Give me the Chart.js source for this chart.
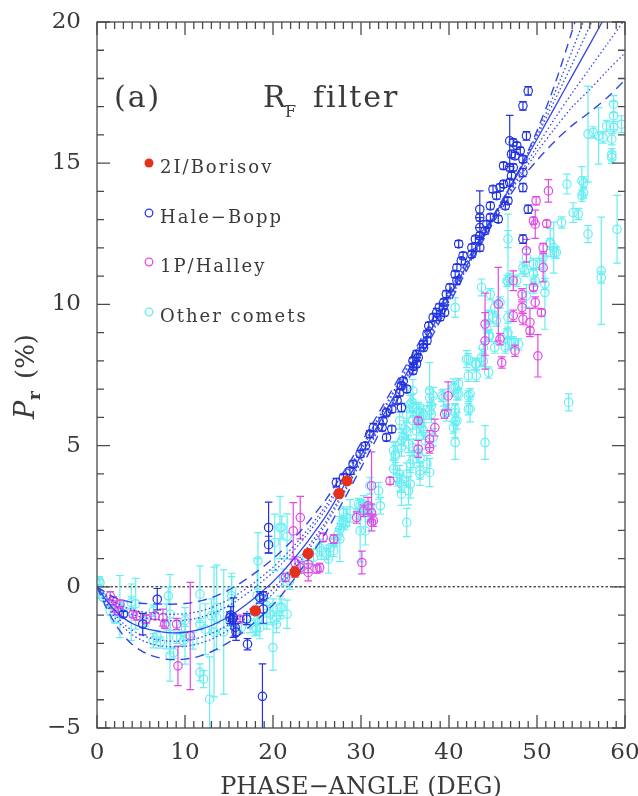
<!DOCTYPE html>
<html>
<head>
<meta charset="utf-8">
<script src="https://cdn.jsdelivr.net/npm/chart.js@4.4.0/dist/chart.umd.min.js"></script>
<style>
  html, body { margin: 0; padding: 0; background: #fff; }
  canvas { display: block; }
</style>
</head>
<body>
<canvas id="chart" width="638" height="796"></canvas>
<script>
// Polarization vs phase angle, R_F filter
// each point is [phase angle, Pr, half error bar]

const borisov = [[18.0,-0.85,0.12],[22.5,0.52,0.18],[24.0,1.18,0.15],[27.5,3.3,0.15],[28.4,3.75,0.1]];

const haleBopp = [
  [3.0,-0.97,0.1],[5.2,-1.32,0.38],[6.85,-0.44,0.38],[15.1,-1.09,0.2],[15.2,-1.0,0.3],[15.5,-1.09,0.7],
  [15.7,-1.44,0.3],[15.8,-1.6,0.3],[15.4,-1.15,0.2],[17.0,-1.14,0.2],[17.1,-2.03,0.2],[18.5,-0.38,0.2],
  [18.9,-0.32,0.15],[18.9,-0.79,0.5],[19.5,2.1,0.9],[19.5,1.49,0.3],[18.8,-3.88,1.15],
  [27.2,3.69,0.15],[28.0,3.87,0.12],[28.75,4.1,0.12],[29.1,4.34,0.12],[29.9,4.7,0.12],[30.5,4.99,0.12],
  [31.0,5.41,0.12],[31.4,5.64,0.15],[32.4,5.64,0.12],[32.9,5.29,0.12],[33.5,5.58,0.12],[32.5,5.88,0.12],
  [32.9,6.17,0.12],[33.5,6.29,0.12],[34.1,6.59,0.12],[34.4,6.88,0.12],[34.6,7.12,0.12],[34.8,7.29,0.12],
  [35.2,7.0,0.12],[35.9,7.65,0.12],[36.3,7.89,0.12],[36.5,8.12,0.12],[37.1,8.47,0.12],[37.5,8.71,0.12],
  [34.6,6.35,0.15],[35.9,8.0,0.12],[36.3,8.24,0.12],[37.1,8.59,0.12],[37.5,8.95,0.12],[37.7,9.24,0.12],
  [38.2,9.54,0.12],[38.6,9.71,0.15],[39.5,9.71,0.12],[39.4,10.07,0.12],[39.7,10.36,0.12],[40.1,10.6,0.12],
  [40.9,10.84,0.12],[40.7,11.07,0.12],[40.9,11.3,0.12],[41.4,11.54,0.12],[41.6,11.72,0.12],[42.6,11.78,0.12],
  [41.1,12.14,0.12],[42.6,12.01,0.12],[43.0,12.31,0.12],[43.5,12.01,0.12],[43.5,12.43,0.12],[44.1,12.61,0.12],
  [44.3,12.84,0.12],[43.5,12.72,0.35],[43.5,13.08,0.12],[43.5,13.37,0.65],[44.7,13.08,0.12],[45.6,13.02,0.12],
  [44.7,13.49,0.12],[45.4,13.85,0.12],[45.0,14.08,0.12],[45.8,14.14,0.12],[46.2,14.26,0.12],[46.7,13.67,0.12],
  [46.4,13.49,0.12],[46.9,14.32,0.12],[47.1,14.55,0.12],[46.9,14.85,0.12],[46.2,14.91,0.12],[47.3,14.85,0.12],
  [47.1,15.32,0.12],[47.3,15.73,0.12],[46.9,15.79,0.9],[47.5,15.26,0.12],[48.1,15.44,0.12],[48.4,15.14,0.12],
  [48.8,15.97,0.15],[48.4,14.67,0.15],[48.4,14.14,0.15],[49.0,13.37,0.15],[48.4,12.31,0.15],[47.7,15.62,0.12],
  [49.0,17.56,0.15],[48.4,17.03,0.15],[36.0,7.8,0.12],[38.9,9.9,0.12],[39.0,9.55,0.12]
];

const halley = [
  [1.5,-0.32,0.15],[1.85,-0.5,0.15],[2.05,-0.7,0.2],[2.42,-0.85,0.15],[2.6,-0.61,0.15],[4.1,-0.97,0.12],
  [4.5,-1.03,0.15],[5.6,-1.14,0.15],[6.6,-1.03,0.12],[7.5,-1.09,0.3],[7.7,-1.32,0.15],[9.05,-1.32,0.2],
  [9.2,-2.8,0.7],[10.6,-1.74,1.9],[16.25,-1.14,0.1],[21.4,0.33,0.15],[22.3,1.98,1.0],[23.1,2.45,0.75],
  [22.5,0.86,0.2],[23.1,0.68,0.2],[24.0,0.8,0.3],[24.0,0.51,0.3],[25.0,0.63,0.15],[25.3,0.68,0.15],
  [25.7,1.75,0.15],[26.9,1.69,0.15],[29.5,2.45,0.2],[30.1,0.86,0.4],[30.3,2.69,0.2],[30.8,2.87,0.3],
  [31.2,3.58,1.2],[31.2,2.28,0.3],[31.4,2.34,0.2],[31.2,2.63,0.3],[33.3,3.75,0.12],[36.5,4.88,0.3],
  [36.5,5.88,0.12],[37.8,5.23,0.3],[37.8,4.93,0.2],[38.4,5.64,0.3],[39.5,6.11,0.15],[39.9,6.76,0.5],
  [44.1,8.71,1.0],[44.1,9.3,1.1],[45.6,10.01,1.3],[45.8,8.77,0.2],[46.0,7.94,0.2],[47.5,8.36,0.2],
  [49.2,9.07,0.12],[50.1,8.18,0.75],[47.3,9.6,0.2],[48.4,9.48,0.2],[49.2,9.36,0.5],[48.3,9.89,0.2],
  [49.8,10.07,0.2],[48.3,10.36,0.2],[49.6,10.6,0.12],[47.3,10.84,0.35],[50.7,11.3,0.5],[50.5,9.71,0.12],
  [48.8,11.9,0.4],[50.7,12.01,0.15],[49.8,12.84,0.5],[49.6,12.96,0.12],[51.1,12.86,0.12],[49.9,13.67,0.15],
  [51.3,14.02,0.4]
];

const otherComets = [
  [0.23,0.21,0.15],[0.34,0.15,0.1],[0.15,-0.26,0.15],[0.7,-0.38,0.1],[1.3,-0.61,0.15],[1.5,-0.85,0.15],
  [2.05,-1.14,0.15],[2.6,-0.7,1.1],[2.8,-0.79,0.3],[3.9,-0.9,1.0],[3.9,-0.56,0.2],[5.45,-1.2,0.2],
  [6.4,-1.91,0.25],[6.4,-0.85,0.2],[6.8,-1.74,0.2],[7.2,-1.97,0.2],[8.3,-0.97,1.4],[8.1,-0.32,0.3],
  [8.3,-2.44,0.9],[8.7,-2.33,0.2],[9.05,-1.8,0.2],[9.6,-1.44,0.2],[9.8,-1.91,0.2],[10.0,-1.2,0.2],
  [10.0,-1.74,1.0],[10.9,-1.91,0.3],[11.7,-0.26,1.0],[11.7,-1.32,0.2],[11.7,-3.03,0.3],[12.1,-3.27,0.3],
  [12.8,-3.98,1.5],[13.0,-1.03,0.6],[13.6,-1.09,0.2],[13.6,-0.73,1.5],[14.4,-1.6,2.2],[15.1,-1.2,0.2],
  [15.3,-0.14,0.5],[15.3,-0.32,0.8],[16.4,-1.44,0.2],[17.4,-1.32,0.3],[18.0,-1.44,0.3],[18.1,-1.5,0.2],
  [18.3,-1.14,0.2],[18.5,-1.44,0.4],[18.3,0.92,1.0],[19.3,-0.67,0.3],[19.3,-1.2,0.3],[19.7,-0.97,0.3],
  [20.0,-0.73,0.3],[20.0,-2.15,0.8],[20.4,-1.32,0.3],[20.4,-1.09,0.2],[20.8,-0.73,0.4],[21.0,-0.73,0.3],
  [21.6,-0.97,0.5],[20.2,1.57,1.0],[20.8,2.1,1.1],[21.6,1.78,0.8],[21.0,2.1,0.4],[21.2,0.33,0.3],
  [21.9,0.21,0.3],[23.4,0.8,0.3],[24.6,1.04,0.3],[25.3,1.39,0.3],[25.5,1.27,0.3],[26.1,1.16,0.2],
  [26.3,0.98,0.5],[26.5,1.39,0.3],[26.9,1.27,0.2],[27.0,1.63,0.2],[27.4,1.87,0.2],[27.6,1.69,0.8],
  [27.6,2.04,0.2],[27.8,2.22,0.2],[28.0,2.34,0.2],[28.0,2.63,0.2],[28.2,2.22,0.2],[28.4,2.45,0.3],
  [28.75,2.69,0.4],[29.7,2.57,0.2],[29.7,2.93,0.2],[29.9,2.87,0.2],[29.9,1.98,1.1],[30.3,2.81,0.2],
  [30.3,2.93,0.3],[30.5,1.98,0.5],[30.6,2.69,0.2],[30.8,2.51,0.2],[31.0,2.75,0.2],[31.0,3.58,0.3],
  [31.2,2.57,0.3],[32.0,3.4,0.3],[32.2,2.87,0.3],[33.7,4.17,0.3],[33.7,4.82,0.3],[33.9,4.7,0.3],
  [33.9,4.64,0.5],[34.1,3.87,0.3],[34.4,3.69,0.3],[34.4,3.99,0.3],[34.4,5.88,0.3],[34.6,3.28,0.4],
  [34.6,3.64,0.3],[34.6,4.93,0.3],[34.6,5.17,0.3],[34.8,5.29,0.3],[35.0,5.58,0.3],[35.2,3.99,0.4],
  [35.2,5.52,0.3],[35.2,2.28,0.5],[35.4,3.4,0.5],[35.4,5.05,0.3],[35.6,4.35,0.3],[35.6,3.64,0.5],
  [35.6,6.47,0.3],[35.8,6.53,0.3],[35.9,4.52,0.3],[35.9,4.93,0.3],[35.9,5.88,0.3],[35.9,6.94,0.4],
  [35.9,6.35,0.3],[35.2,6.11,0.3],[36.3,5.52,0.3],[36.3,6.17,0.3],[36.5,4.7,0.3],[36.5,6.23,0.3],
  [36.7,3.99,0.4],[36.7,4.11,0.3],[36.7,4.58,0.3],[36.7,5.76,0.3],[36.7,6.17,0.3],[36.9,5.64,0.3],
  [36.9,6.0,0.3],[37.1,5.52,0.3],[37.1,6.11,0.3],[37.3,5.17,0.3],[37.5,4.35,0.3],[37.8,4.05,0.5],
  [37.8,6.23,0.3],[37.8,6.7,0.3],[37.8,6.94,1.0],[38.0,6.41,0.3],[38.0,6.11,0.3],[38.2,5.29,0.3],
  [38.2,6.76,0.3],[39.2,6.76,0.2],[39.4,6.7,0.3],[39.7,6.17,0.3],[39.7,6.23,0.2],[40.5,5.64,0.2],
  [40.5,7.06,0.3],[40.7,5.11,0.6],[40.7,5.88,0.6],[40.7,6.17,0.3],[40.7,6.29,0.2],[40.7,7.06,0.2],
  [40.9,5.88,0.3],[40.9,6.82,0.2],[40.7,9.89,0.35],[41.1,6.82,0.2],[41.1,7.18,0.2],[42.0,8.06,0.3],
  [42.2,6.29,0.2],[42.2,6.76,0.2],[42.2,7.47,0.2],[42.2,8.06,0.2],[42.4,6.29,0.45],[42.4,6.82,0.2],
  [43.0,7.89,0.2],[43.1,7.47,0.2],[43.1,7.89,0.2],[43.7,8.12,0.3],[43.7,10.6,0.3],[43.9,8.0,0.2],
  [43.9,8.47,0.2],[44.1,5.11,0.6],[44.3,9.18,0.2],[44.5,7.59,0.2],[44.5,8.89,0.2],[44.5,9.6,0.2],
  [44.6,8.89,0.2],[44.7,10.36,0.2],[45.0,9.54,0.2],[45.2,8.47,0.2],[45.2,9.89,0.2],[45.4,9.42,0.2],
  [45.8,10.07,0.2],[46.4,8.47,0.2],[46.6,8.95,0.2],[46.6,10.84,0.2],[46.7,9.0,0.2],[46.7,9.54,0.2],
  [46.7,10.8,2.4],[46.7,12.31,0.3],[46.9,10.9,0.2],[47.1,8.65,0.2],[47.3,8.65,0.2],[47.7,10.84,0.2],
  [47.9,8.59,0.2],[48.4,11.3,0.2],[48.6,11.19,0.2],[48.8,10.3,0.4],[48.8,11.66,0.3],[49.6,10.6,0.2],
  [49.6,11.07,0.2],[49.6,11.43,0.2],[49.8,10.84,0.2],[50.3,11.43,0.2],[50.9,10.42,1.3],[50.9,10.72,0.2],
  [50.7,11.66,0.2],[51.5,12.14,0.2],[51.5,12.19,0.5],[51.9,12.01,0.9],[52.0,11.84,0.2],[52.2,11.84,0.2],
  [52.8,12.9,0.2],[53.4,14.26,0.35],[53.6,6.53,0.3],[54.1,13.25,0.35],[54.7,13.2,0.2],[55.1,13.85,0.2],
  [55.1,14.38,0.5],[55.3,13.96,0.2],[55.3,14.32,0.2],[55.8,12.49,0.3],[55.8,16.03,1.7],[56.4,16.09,0.2],
  [57.0,15.97,1.0],[57.3,11.19,1.9],[57.3,10.95,0.2],[57.5,15.91,0.2],[57.9,16.32,0.2],[58.5,15.2,0.2],
  [58.5,15.32,0.2],[58.5,15.85,0.2],[58.7,16.27,0.2],[58.7,16.68,0.5],[58.7,17.09,0.3],[59.1,12.66,1.2],
  [59.6,16.38,0.3],[13.3,-1.6,2.3],[18.2,-0.3,1.3],[4.4,-0.6,0.9],[7.9,-1.4,0.8],[12.3,-1.5,0.9]
];

// fitted phase curve (solid) with its confidence envelopes
const fitX      = [0,1,2,3,4,5,6,7,8,9,10,11,12,13,14,15,16,17,18,19,20,21,22,23,24,25,26,28,30,32,34,36,38,40,42,44,46,48,50,52,54,56,58,60];
const fitMid    = [0,-0.45,-0.83,-1.10,-1.30,-1.43,-1.52,-1.58,-1.62,-1.63,-1.61,-1.56,-1.48,-1.37,-1.22,-1.05,-0.85,-0.62,-0.37,-0.10,0.18,0.50,0.85,1.23,1.63,2.06,2.50,3.55,4.65,5.77,6.89,8.01,9.13,10.25,11.37,12.49,13.61,14.73,15.85,16.97,18.09,19.21,20.33,21.45];
const fitDashUp = [0,-0.20,-0.38,-0.48,-0.55,-0.58,-0.60,-0.61,-0.62,-0.61,-0.59,-0.55,-0.48,-0.39,-0.26,-0.11,0.07,0.28,0.50,0.74,0.99,1.28,1.59,1.93,2.29,2.68,3.08,4.05,5.09,6.15,7.23,8.32,9.41,10.47,11.53,12.59,13.67,14.78,16.15,17.77,19.69,21.71,23.73,25.75];
const fitDotUp2 = [0,-0.29,-0.54,-0.70,-0.81,-0.88,-0.92,-0.95,-0.97,-0.97,-0.95,-0.91,-0.84,-0.74,-0.60,-0.45,-0.26,-0.05,0.18,0.43,0.69,0.99,1.32,1.67,2.05,2.45,2.87,3.87,4.93,6.01,7.10,8.21,9.31,10.39,11.47,12.56,13.65,14.78,16.05,17.47,18.99,20.61,22.23,23.85];
const fitDotUp1 = [0,-0.35,-0.65,-0.84,-0.98,-1.07,-1.13,-1.17,-1.20,-1.20,-1.18,-1.14,-1.06,-0.96,-0.82,-0.66,-0.47,-0.25,-0.01,0.25,0.51,0.82,1.15,1.52,1.90,2.31,2.74,3.76,4.83,5.93,7.03,8.13,9.23,10.33,11.43,12.53,13.64,14.76,15.95,17.22,18.51,19.86,21.23,22.60];
const fitDotLo1 = [0,-0.53,-0.97,-1.30,-1.54,-1.70,-1.81,-1.88,-1.92,-1.93,-1.91,-1.86,-1.77,-1.66,-1.50,-1.33,-1.12,-0.89,-0.63,-0.36,-0.07,0.26,0.62,1.01,1.42,1.86,2.31,3.38,4.50,5.64,6.77,7.90,9.03,10.17,11.31,12.44,13.53,14.58,15.60,16.57,17.49,18.36,19.23,20.10];
const fitDotLo2 = [0,-0.59,-1.08,-1.43,-1.70,-1.88,-2.00,-2.08,-2.12,-2.13,-2.11,-2.06,-1.97,-1.86,-1.70,-1.52,-1.31,-1.07,-0.81,-0.53,-0.24,0.10,0.47,0.87,1.29,1.74,2.20,3.28,4.41,5.56,6.70,7.83,8.95,10.11,11.27,12.41,13.49,14.48,15.40,16.22,16.99,17.61,18.28,18.90];
const fitDashLo = [0,-0.70,-1.28,-1.72,-2.04,-2.26,-2.41,-2.51,-2.57,-2.58,-2.56,-2.51,-2.42,-2.30,-2.14,-1.96,-1.75,-1.50,-1.23,-0.94,-0.64,-0.28,0.11,0.53,0.97,1.44,1.92,3.05,4.21,5.39,6.55,7.70,8.83,10.01,11.19,12.34,13.39,14.35,15.10,15.77,16.34,16.81,17.33,17.95];

const xTicks = [0, 10, 20, 30, 40, 50, 60];
const yTicks = [-5, 0, 5, 10, 15, 20];

const legendItems = [
  { label: "2I/Borisov", color: "#e6301c", filled: true },
  { label: "Hale−Bopp", color: "#2a3ae6", filled: false },
  { label: "1P/Halley", color: "#e24ae6", filled: false },
  { label: "Other comets", color: "#66eef2", filled: false },
];

const FONT = "'DejaVu Serif', 'Liberation Serif', serif";
const TEXT = "#3a3a3a";
const FIT_COLOR = "#3446e8";

function points(list) {
  return list.map(p => ({ x: p[0], y: p[1] }));
}
function errors(list) {
  return list.map(p => p[2]);
}
function curve(ys) {
  return fitX.map((x, i) => ({ x: x, y: ys[i] }));
}

function fitLine(ys, dash, width) {
  return {
    type: 'line',
    data: curve(ys),
    showLine: true,
    borderColor: FIT_COLOR,
    borderWidth: width,
    borderDash: dash,
    pointRadius: 0,
    tension: 0.3,
    fill: false
  };
}

function markerSet(list, color, errColor, radius, filled) {
  return {
    type: 'scatter',
    data: points(list),
    errors: errors(list),
    errorColor: errColor,
    borderColor: color,
    backgroundColor: filled ? color : 'rgba(0,0,0,0)',
    pointRadius: radius,
    pointBorderWidth: 1.2,
    pointHoverRadius: radius
  };
}

// vertical error bars with caps, drawn just before each dataset so layering is kept
const errorBars = {
  id: 'errorBars',
  beforeDatasetDraw(chart, args) {
    const ds = chart.data.datasets[args.index];
    if (!ds.errors) return;
    const { ctx, chartArea: a, scales: { x, y } } = chart;
    ctx.save();
    ctx.beginPath();
    ctx.rect(a.left, a.top, a.right - a.left, a.bottom - a.top);
    ctx.clip();
    ctx.strokeStyle = ds.errorColor;
    ctx.lineWidth = 1.2;
    ds.data.forEach((p, i) => {
      const e = ds.errors[i];
      if (!e) return;
      const px = x.getPixelForValue(p.x);
      const hi = y.getPixelForValue(p.y + e);
      const lo = y.getPixelForValue(p.y - e);
      ctx.beginPath();
      ctx.moveTo(px, hi); ctx.lineTo(px, lo);
      ctx.moveTo(px - 3.8, hi); ctx.lineTo(px + 3.8, hi);
      ctx.moveTo(px - 3.8, lo); ctx.lineTo(px + 3.8, lo);
      ctx.stroke();
    });
    ctx.restore();
  }
};

// dotted Pr = 0 line
const zeroLine = {
  id: 'zeroLine',
  beforeDatasetsDraw(chart) {
    const { ctx, scales: { x, y } } = chart;
    const py = y.getPixelForValue(0);
    ctx.save();
    ctx.strokeStyle = '#000';
    ctx.lineWidth = 1;
    ctx.setLineDash([2.5, 2]);
    ctx.beginPath();
    ctx.moveTo(x.getPixelForValue(0), py);
    ctx.lineTo(x.getPixelForValue(60), py);
    ctx.stroke();
    ctx.restore();
  }
};

// box with inward ticks on all four sides
const frame = {
  id: 'frame',
  afterDraw(chart) {
    const { ctx, chartArea: a, scales: { x, y } } = chart;
    ctx.save();
    ctx.strokeStyle = '#4a4a4a';
    ctx.lineWidth = 1.3;
    ctx.strokeRect(a.left, a.top, a.right - a.left, a.bottom - a.top);
    ctx.beginPath();
    for (let v = 0; v <= 60; v++) {
      const px = x.getPixelForValue(v);
      const len = v % 10 === 0 ? 13 : 7;
      ctx.moveTo(px, a.bottom); ctx.lineTo(px, a.bottom - len);
      ctx.moveTo(px, a.top); ctx.lineTo(px, a.top + len);
    }
    for (let v = -5; v <= 20; v++) {
      const py = y.getPixelForValue(v);
      const len = v % 5 === 0 ? 13 : 7;
      ctx.moveTo(a.left, py); ctx.lineTo(a.left + len, py);
      ctx.moveTo(a.right, py); ctx.lineTo(a.right - len, py);
    }
    ctx.stroke();
    ctx.restore();
  }
};

// titles, panel label and the hand-placed legend
const labels = {
  id: 'labels',
  afterDraw(chart) {
    const { ctx, chartArea: a } = chart;
    ctx.save();
    ctx.fillStyle = TEXT;
    ctx.textBaseline = 'alphabetic';

    // x axis title
    ctx.font = "24px " + FONT;
    ctx.textAlign = 'center';
    ctx.fillText("PHASE−ANGLE (DEG)", (a.left + a.right) / 2, 794);

    // y axis title: P_r (%)
    ctx.save();
    ctx.translate(34, 377);
    ctx.rotate(-Math.PI / 2);
    ctx.textAlign = 'left';
    ctx.font = "italic 27px " + FONT;
    ctx.fillText("P", -42, 0);
    ctx.font = "bold 17px " + FONT;
    ctx.fillText("r", -23, 6);
    ctx.font = "26px " + FONT;
    ctx.fillText("(%)", -2, 0);
    ctx.restore();

    // panel label and filter name
    ctx.textAlign = 'left';
    ctx.letterSpacing = '2px';
    ctx.font = "30px " + FONT;
    ctx.fillText("(a)", 114, 107);
    ctx.fillText("R", 263, 107);
    ctx.fillText("filter", 313, 107);
    ctx.font = "16px " + FONT;
    ctx.fillText("F", 285, 117);

    // legend
    const rows = [163, 213, 262, 312];
    ctx.font = "18px " + FONT;
    legendItems.forEach((item, i) => {
      const cy = rows[i];
      ctx.beginPath();
      ctx.arc(149, cy, item.filled ? 4.5 : 3.8, 0, Math.PI * 2);
      if (item.filled) {
        ctx.fillStyle = item.color;
        ctx.fill();
      } else {
        ctx.strokeStyle = item.color;
        ctx.lineWidth = 1.3;
        ctx.stroke();
      }
      ctx.fillStyle = TEXT;
      ctx.fillText(item.label, 160, cy + 10);
    });
    ctx.restore();
  }
};

const datasets = [
  markerSet(borisov, '#e6301c', '#dd4a2a', 5, true),
  markerSet(haleBopp, '#2233e0', '#2233e0', 4.2, false),
  fitLine(fitMid, [], 1.3),
  fitLine(fitDotUp1, [1.5, 2.5], 1.3),
  fitLine(fitDotUp2, [1.5, 2.5], 1.3),
  fitLine(fitDotLo1, [1.5, 2.5], 1.3),
  fitLine(fitDotLo2, [1.5, 2.5], 1.3),
  fitLine(fitDashUp, [9, 6], 1.4),
  fitLine(fitDashLo, [9, 6], 1.4),
  markerSet(halley, '#e24ae6', '#e24ae6', 4.2, false),
  markerSet(otherComets, '#66eef2', '#66eef2', 4.2, false)
];

new Chart(document.getElementById("chart"), {
  type: 'scatter',
  data: { datasets: datasets },
  options: {
    responsive: false,
    animation: false,
    events: [],
    layout: { padding: { top: 22, right: 13, left: 0, bottom: 0 } },
    plugins: {
      legend: { display: false },
      tooltip: { enabled: false }
    },
    scales: {
      x: {
        type: 'linear',
        min: 0,
        max: 60,
        afterBuildTicks: s => { s.ticks = xTicks.map(v => ({ value: v })); },
        ticks: { font: { family: FONT, size: 23 }, color: TEXT, padding: 11, maxRotation: 0, autoSkip: false },
        grid: { display: false, drawTicks: false },
        border: { display: false },
        afterFit: s => { s.height = 68; s.paddingLeft = 0; s.paddingRight = 0; }
      },
      y: {
        type: 'linear',
        min: -5,
        max: 20,
        afterBuildTicks: s => { s.ticks = yTicks.map(v => ({ value: v })); },
        ticks: {
          font: { family: FONT, size: 23 }, color: TEXT, padding: 16, autoSkip: false,
          callback: v => String(v).replace('-', '−')
        },
        grid: { display: false, drawTicks: false },
        border: { display: false },
        afterFit: s => { s.width = 97; s.paddingTop = 0; s.paddingBottom = 0; }
      }
    }
  },
  plugins: [errorBars, zeroLine, frame, labels]
});
</script>
</body>
</html>
